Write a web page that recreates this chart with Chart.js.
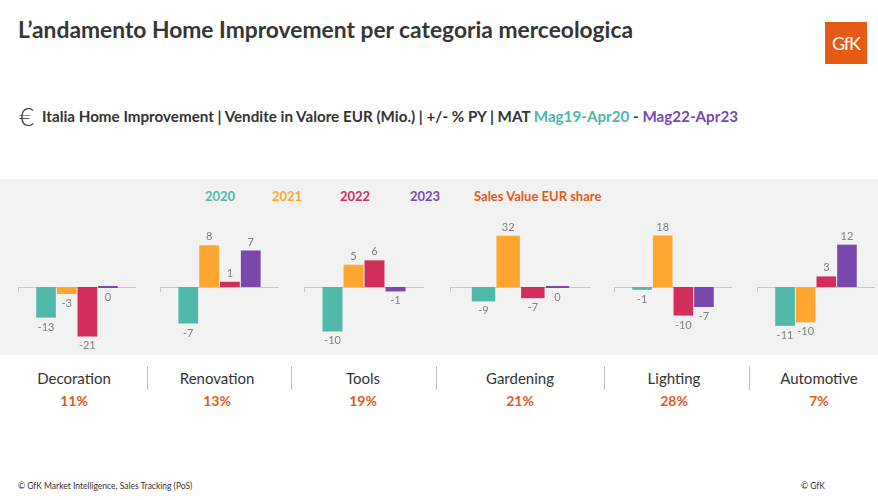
<!DOCTYPE html>
<html>
<head>
<meta charset="utf-8">
<script src="https://cdn.jsdelivr.net/npm/chart.js"></script>
<style>
  html, body { margin: 0; padding: 0; background: #fff; }
  #slide { position: relative; width: 878px; height: 500px; overflow: hidden; font-family: Lato, "Open Sans", sans-serif; color: #333; }
  .abs { position: absolute; white-space: nowrap; }
  #title { left: 18px; top: 15px; font-size: 22.8px; font-weight: 700; color: #363636; }
  #logo { left: 825px; top: 22px; width: 42px; height: 42px; background: #e55b13; color: #fff; font-size: 18px; line-height: 42px; text-align: center; letter-spacing: -1px; }
  #eur { left: 19px; top: 100px; font-size: 26px; font-weight: 300; }
  #sub { left: 42px; top: 107px; font-size: 15.2px; font-weight: 700; }
  #band { left: 0; top: 179px; width: 878px; height: 176px; background: #f2f2f2; }
  .leg { top: 188px; font-size: 13px; font-weight: 700; }
  .panel { position: absolute; }
  .cat { font-size: 15px; text-align: center; width: 140px; }
  .share { font-size: 14px; font-weight: 700; color: #e05a1e; text-align: center; width: 140px; }
  .sep { width: 1px; height: 24px; top: 366px; background: #bdbdbd; }
  .foot { top: 481px; font-size: 8.5px; }
</style>
</head>
<body>
<div id="slide">
  <div id="title" class="abs">L’andamento Home Improvement per categoria merceologica</div>
  <div id="logo" class="abs">GfK</div>
  <div id="eur" class="abs">€</div>
  <div id="sub" class="abs">Italia Home Improvement | Vendite in Valore EUR (Mio.) | +/- % PY | MAT <span style="color:#4db6ac">Mag19-Apr20</span> - <span style="color:#7a48ac">Mag22-Apr23</span></div>
  <div id="band" class="abs"></div>
  <div class="abs foot" style="left:18px">© GfK Market Intelligence, Sales Tracking (PoS)</div>
  <div class="abs foot" style="left:801px">© GfK</div>
</div>
<script>
// categories and their value share
var categories = ['Decoration', 'Renovation', 'Tools', 'Gardening', 'Lighting', 'Automotive'];
var shares = ['11%', '13%', '19%', '21%', '28%', '7%'];
var years = ['2020', '2021', '2022', '2023'];

// +/- % PY per year, one entry per category
var v2020 = [-13, -7, -10, -9, -1, -11];
var v2021 = [-3, 8, 5, 32, 18, -10];
var v2022 = [-21, 1, 6, -7, -10, 3];
var v2023 = [0, 7, -1, 0, -7, 12];

// each small chart has its own symmetric value range
var axisRange = [25.5, 11.5, 13.5, 37.5, 21, 17];

var colors = ['#50b9ac', '#ffa630', '#d12e5c', '#7a48ac'];
var shareColor = '#e05a1e';

// panel geometry on the slide (left, width of the axis)
var panelLeft = [18, 160, 304, 450, 614, 757];
var panelWidth = [118, 119, 120, 141, 118, 118];
var labelCenter = [74, 217, 363, 520, 674, 819];
var sepX = [147, 291, 436, 604, 749];
var zeroY = 287;
var halfH = 60, padV = 12;

var slide = document.getElementById('slide');

// legend row
var legX = [205, 272, 340, 410];
years.forEach(function(y, i) {
    var d = document.createElement('div');
    d.className = 'abs leg';
    d.style.left = legX[i] + 'px';
    d.style.color = colors[i];
    d.textContent = y;
    slide.appendChild(d);
});
var sl = document.createElement('div');
sl.className = 'abs leg';
sl.style.left = '474px';
sl.style.color = shareColor;
sl.textContent = 'Sales Value EUR share';
slide.appendChild(sl);

// value labels above / below bars
var valueLabels = {
    id: 'valueLabels',
    afterDatasetsDraw: function(chart) {
        var ctx = chart.ctx;
        ctx.save();
        ctx.font = '11px Lato, sans-serif';
        ctx.fillStyle = '#808080';
        ctx.textAlign = 'center';
        chart.data.datasets.forEach(function(ds, di) {
            var meta = chart.getDatasetMeta(di);
            meta.data.forEach(function(bar, i) {
                var v = ds.data[i];
                if (v > 0) {
                    ctx.textBaseline = 'bottom';
                    ctx.fillText(String(v), bar.x, bar.y - 3);
                } else {
                    ctx.textBaseline = 'top';
                    ctx.fillText(String(v), bar.x, Math.max(bar.y, bar.base) + 4);
                }
            });
        });
        ctx.restore();
    }
};

var series = [v2020, v2021, v2022, v2023];

categories.forEach(function(cat, p) {
    var canvas = document.createElement('canvas');
    canvas.className = 'panel';
    canvas.width = panelWidth[p];
    canvas.height = 2 * (halfH + padV);
    canvas.style.left = panelLeft[p] + 'px';
    canvas.style.top = (zeroY - halfH - padV) + 'px';
    slide.appendChild(canvas);

    new Chart(canvas.getContext('2d'), {
        type: 'bar',
        data: {
            labels: [cat],
            datasets: years.map(function(y, i) {
                return {
                    label: y,
                    data: [series[i][p]],
                    backgroundColor: colors[i],
                    borderWidth: 0,
                    minBarLength: 2,
                    categoryPercentage: 0.7,
                    barPercentage: 0.95
                };
            })
        },
        options: {
            responsive: false,
            animation: false,
            layout: { padding: { top: padV, bottom: padV, left: 0, right: 0 } },
            plugins: { legend: { display: false }, tooltip: { enabled: false } },
            scales: {
                x: {
                    position: { y: 0 },
                    ticks: { display: false },
                    grid: { drawOnChartArea: false, drawTicks: true, tickLength: 4, color: '#c8c8c8', offset: true },
                    border: { color: '#c8c8c8' }
                },
                y: {
                    display: false,
                    min: -axisRange[p],
                    max: axisRange[p]
                }
            }
        },
        plugins: [valueLabels]
    });

    var c = document.createElement('div');
    c.className = 'abs cat';
    c.style.left = (labelCenter[p] - 70) + 'px';
    c.style.top = '369px';
    c.textContent = cat;
    slide.appendChild(c);

    var s = document.createElement('div');
    s.className = 'abs share';
    s.style.left = (labelCenter[p] - 70) + 'px';
    s.style.top = '392px';
    s.textContent = shares[p];
    slide.appendChild(s);
});

sepX.forEach(function(x) {
    var d = document.createElement('div');
    d.className = 'abs sep';
    d.style.left = x + 'px';
    slide.appendChild(d);
});
</script>
</body>
</html>
